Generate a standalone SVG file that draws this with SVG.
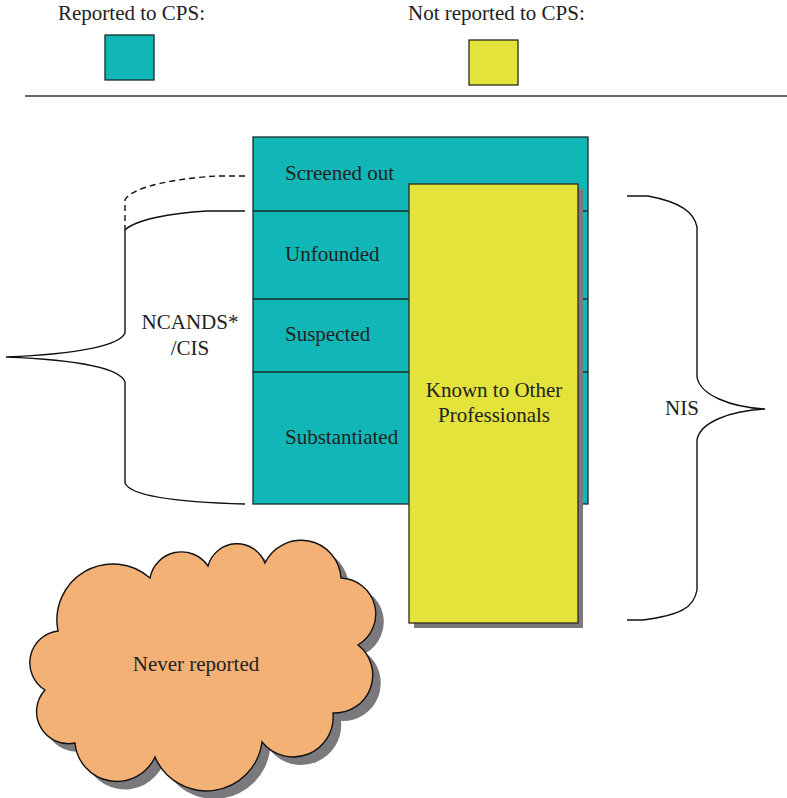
<svg xmlns="http://www.w3.org/2000/svg" width="787" height="798" viewBox="0 0 787 798">
<style>
text{font-family:"Liberation Serif","Times New Roman","DejaVu Serif",serif;font-size:21px;fill:#222}
.teal{fill:#11B7B7;stroke:#1a2a2a;stroke-width:1.3}
.yel{fill:#E3E33C;stroke:#2a2a1a;stroke-width:1.3}
.shadow{fill:#7a7a7e}
.div{stroke:#1a2a2a;stroke-width:1.3}
.brace{fill:none;stroke:#111;stroke-width:1.4}
</style>
<rect width="787" height="798" fill="#fff"/>
<g id="legend" font-family="Liberation Serif, serif">
<text x="58" y="20">Reported to CPS:</text>
<rect class="teal" x="105" y="35" width="49" height="45"/>
<text x="408" y="20">Not reported to CPS:</text>
<rect class="yel" x="469" y="40" width="49" height="45"/>
<line x1="25" y1="96" x2="787" y2="96" stroke="#333" stroke-width="1.3"/>
</g>
<g id="connectors">
<path class="brace" d="M245,211 L207,211 C170,213 135,220 125,230 L125,333 C120,345 80,354 6,357 C80,360 120,368 125,382 L125,483 C130,495 170,502 245,504"/>
<path class="brace" stroke-dasharray="6,4" d="M245,176 L218,176 C180,178 132,186 125,200 L125,230"/>
<path class="brace" d="M627,196 L648,196 C680,202 694,212 697,227 L697,377 C700,395 730,407 765,409 C730,411 700,422 697,440 L697,590 C694,608 680,615 643,620 L627,620"/>
</g>
<g id="cps" font-family="Liberation Serif, serif">
<rect class="teal" x="253" y="137" width="335" height="367"/>
<line class="div" x1="253" y1="211" x2="588" y2="211"/>
<line class="div" x1="253" y1="299" x2="588" y2="299"/>
<line class="div" x1="253" y1="372" x2="588" y2="372"/>
<text x="285" y="180">Screened out</text>
<text x="285" y="261">Unfounded</text>
<text x="285" y="341">Suspected</text>
<text x="285" y="444">Substantiated</text>
</g>
<g id="ncands" font-family="Liberation Serif, serif">
<text x="190" y="329" text-anchor="middle">NCANDS*</text>
<text x="190" y="355" text-anchor="middle">/CIS</text>
</g>
<g id="nis" font-family="Liberation Serif, serif">
<text x="682" y="415" text-anchor="middle">NIS</text>
</g>
<g id="other" font-family="Liberation Serif, serif">
<rect class="shadow" x="414" y="189" width="169" height="439"/>
<rect class="yel" x="409" y="184" width="169" height="439"/>
<text x="494" y="397" text-anchor="middle">Known to Other</text>
<text x="494" y="422" text-anchor="middle">Professionals</text>
</g>
<g id="never" font-family="Liberation Serif, serif">
<path class="shadow" transform="translate(8,8)" d="M58,631 A56,56 0 0 1 150,578 A32,32 0 0 1 208,566 A30,30 0 0 1 265,563 A40,40 0 0 1 341,578 A36,36 0 0 1 358,645 A38,38 0 0 1 333,713 A40,40 0 0 1 262,742 A56,56 0 0 1 155,757 A42,42 0 0 1 75,743 A32,32 0 0 1 45,690 A32,32 0 0 1 58,631 Z"/>
<path fill="#F4B176" stroke="#111" stroke-width="1.4" d="M58,631 A56,56 0 0 1 150,578 A32,32 0 0 1 208,566 A30,30 0 0 1 265,563 A40,40 0 0 1 341,578 A36,36 0 0 1 358,645 A38,38 0 0 1 333,713 A40,40 0 0 1 262,742 A56,56 0 0 1 155,757 A42,42 0 0 1 75,743 A32,32 0 0 1 45,690 A32,32 0 0 1 58,631 Z"/>
<text x="196" y="671" text-anchor="middle">Never reported</text>
</g>
</svg>
